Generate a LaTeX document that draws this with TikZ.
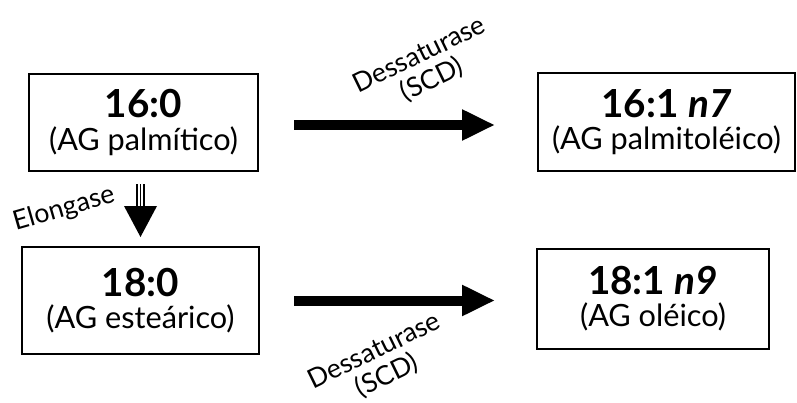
\documentclass[tikz,border=0pt]{standalone}
\usepackage{fontspec}
\setmainfont{Lato}
\usetikzlibrary{arrows.meta,calc}
\newcommand\bigtxt[1]{{\fontsize{29}{30}\selectfont\bfseries #1}}
\newcommand\subtxt[1]{{\fontsize{23}{24}\selectfont #1}}
\tikzset{
  box/.style={draw, line width=1.5pt, align=center, inner sep=0pt},
  lbl/.style={align=center, inner sep=0pt, font=\fontsize{20}{21}\selectfont},
  bigarrow/.style={line width=7.5pt, -{Triangle[length=24.75pt,width=21.75pt]}},
  tripleshaft/.style={preaction={draw, black, line width=6.75pt},
    draw=white, line width=1.3125pt, double=black, double distance=1.125pt}
}
\begin{document}
\begin{tikzpicture}[x=0.75pt,y=-0.75pt]
\useasboundingbox (0,0) rectangle (797,403);
\node[box, minimum width=171.75pt, minimum height=72.75pt] (b1) at (143.5,122.5)
  {\bigtxt{16:0}\\[5pt]\subtxt{(AG palmítico)}};
\node[box, minimum width=192.75pt, minimum height=73.5pt] (b3) at (666.5,122)
  {\bigtxt{16:1 \textit{n7}}\\[5pt]\subtxt{(AG palmitoléico)}};
\node[box, minimum width=177.75pt, minimum height=80.25pt] (b2) at (140.5,300.5)
  {\bigtxt{18:0}\\[5pt]\subtxt{(AG esteárico)}};
\node[box, minimum width=174pt, minimum height=75pt] (b4) at (653,299)
  {\bigtxt{18:1 \textit{n9}}\\[5pt]\subtxt{(AG oléico)}};
% desaturase arrows
\draw[bigarrow, shorten <=26.25pt, shorten >=31.5pt]
  ($(b1.east)+(0,2.5)$) -- ($(b1.east -| b3.west)+(0,2.5)$);
\draw[bigarrow, shorten <=25.5pt, shorten >=30.75pt]
  (b2.east) -- (b2.east -| b4.west);
% elongase arrow
\coordinate (hb) at ($(b2.north)+(0,-39.5)$);
\draw[tripleshaft, shorten <=9pt] (b2.north |- b1.south) -- (hb);
\fill ($(b2.north)+(-16.5,-40)$) -- ($(b2.north)+(16.5,-40)$) -- ($(b2.north)+(0,-9)$) -- cycle;
% labels
\node[lbl, rotate=26] (d1) at (426,68) {Dessaturase\\(SCD)};
\node[lbl, rotate=26] (d2) at (381,364) {Dessaturase\\(SCD)};
\node[lbl, rotate=16] (el) at (64,209) {Elongase};
\end{tikzpicture}
\end{document}
